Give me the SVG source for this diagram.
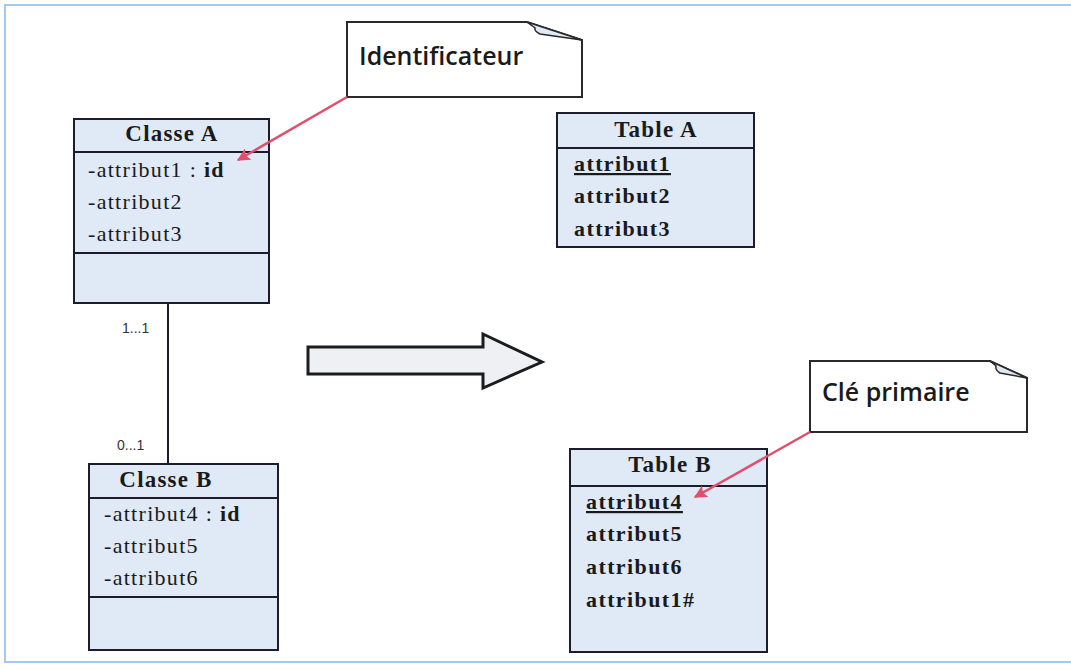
<svg xmlns="http://www.w3.org/2000/svg" width="1071" height="669" viewBox="0 0 1071 669">
  <style>
    .box { fill: #dfeaf6; stroke: #1c1c2c; stroke-width: 2; }
    .div { stroke: #1c1c2c; stroke-width: 2; }
    .title { font-family: "Liberation Serif", serif; font-weight: bold; font-size: 23px; fill: #1a1a1a; text-anchor: middle; letter-spacing: 1.2px; }
    .attr { font-family: "Liberation Serif", serif; font-size: 22px; fill: #1a1a1a; letter-spacing: 1.3px; }
    .col { font-family: "Liberation Serif", serif; font-weight: bold; font-size: 22px; fill: #1a1a1a; letter-spacing: 1.4px; }
    .note { fill: #ffffff; stroke: #2a2a2a; stroke-width: 2; }
    .notetext { font-family: "Open Sans", "Liberation Sans", sans-serif; font-weight: 600; font-size: 25px; fill: #1a1a1a; }
    .mult { font-family: "Liberation Sans", sans-serif; font-size: 14px; fill: #333333; }
    .pointer { stroke: #e0506e; stroke-width: 2.5; fill: none; }
  </style>
  <defs>
    <marker id="redhead" viewBox="0 0 10 10" refX="9" refY="5" markerWidth="15" markerHeight="13" orient="auto" markerUnits="userSpaceOnUse">
      <path d="M0,0 L10,5 L0,10 L2,5 z" fill="#e0506e"/>
    </marker>
  </defs>

  <!-- frame -->
  <rect x="5" y="5" width="1075" height="657" fill="#ffffff" stroke="#a9c9ec" stroke-width="2"/>

  <!-- Classe A -->
  <g id="classeA">
    <rect class="box" x="74" y="119" width="195" height="184"/>
    <line class="div" x1="74" y1="152" x2="269" y2="152"/>
    <line class="div" x1="74" y1="253" x2="269" y2="253"/>
    <text class="title" x="172" y="141">Classe A</text>
    <text class="attr" x="88" y="177">-attribut1 : <tspan font-weight="bold">id</tspan></text>
    <text class="attr" x="88" y="209">-attribut2</text>
    <text class="attr" x="88" y="241">-attribut3</text>
  </g>

  <!-- Classe B -->
  <g id="classeB">
    <rect class="box" x="89" y="464" width="189" height="186"/>
    <line class="div" x1="89" y1="498" x2="278" y2="498"/>
    <line class="div" x1="89" y1="597" x2="278" y2="597"/>
    <text class="title" x="166" y="487">Classe B</text>
    <text class="attr" x="104" y="521">-attribut4 : <tspan font-weight="bold">id</tspan></text>
    <text class="attr" x="104" y="553">-attribut5</text>
    <text class="attr" x="104" y="585">-attribut6</text>
  </g>

  <!-- Table A -->
  <g id="tableA">
    <rect class="box" x="557" y="113" width="197" height="134"/>
    <line class="div" x1="557" y1="148" x2="754" y2="148"/>
    <text class="title" x="656" y="137">Table A</text>
    <text class="col" x="574" y="171" text-decoration="underline">attribut1</text>
    <text class="col" x="574" y="203">attribut2</text>
    <text class="col" x="574" y="236">attribut3</text>
  </g>

  <!-- Table B -->
  <g id="tableB">
    <rect class="box" x="570" y="449" width="197" height="203"/>
    <line class="div" x1="570" y1="486" x2="767" y2="486"/>
    <text class="title" x="670" y="472">Table B</text>
    <text class="col" x="586" y="509" text-decoration="underline">attribut4</text>
    <text class="col" x="586" y="541">attribut5</text>
    <text class="col" x="586" y="574">attribut6</text>
    <text class="col" x="586" y="607">attribut1#</text>
  </g>

  <!-- transformation arrow -->
  <g id="transform">
    <path d="M308,347 L483,347 L483,334 L542,362 L483,388 L483,374 L308,374 Z" fill="#eef0f4" stroke="#1c1c1c" stroke-width="3" stroke-linejoin="miter"/>
  </g>

  <!-- note: Identificateur -->
  <g id="noteId">
    <path class="note" d="M347,22 L527,22 L582,40 L582,97 L347,97 Z"/>
    <path d="M527,22 L582,40 L540,34 Q534,31 535,28 Z" fill="#dfeaf6" stroke="#2a2a2a" stroke-width="1.5"/>
    <text class="notetext" x="359" y="65">Identificateur</text>
  </g>

  <!-- note: Clé primaire -->
  <g id="noteCle">
    <path class="note" d="M810,361 L990,361 L1027,378 L1027,432 L810,432 Z"/>
    <path d="M990,361 L1027,378 L1000,373 Q995,370 996,366 Z" fill="#dfeaf6" stroke="#2a2a2a" stroke-width="1.5"/>
    <text class="notetext" x="822" y="401">Clé primaire</text>
  </g>

  <!-- connectors: association and note pointers -->
  <g id="connectors">
    <line x1="168" y1="303" x2="168" y2="464" stroke="#1c1c2c" stroke-width="2"/>
    <text class="mult" x="122" y="333">1...1</text>
    <text class="mult" x="117" y="450">0...1</text>
    <line class="pointer" x1="347" y1="97" x2="238" y2="160" marker-end="url(#redhead)"/>
    <line class="pointer" x1="810" y1="432" x2="695" y2="497" marker-end="url(#redhead)"/>
  </g>
</svg>
